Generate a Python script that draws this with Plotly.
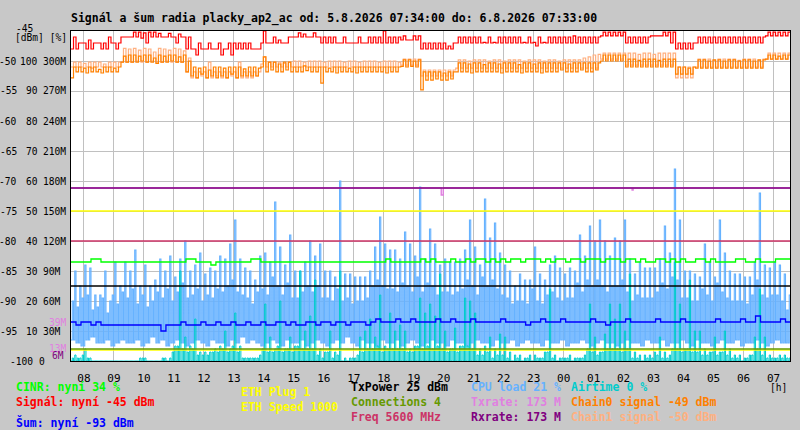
from datetime import datetime, timedelta

import plotly.graph_objects as go

START = datetime(2026, 8, 5, 7, 34)
END = datetime(2026, 8, 6, 7, 33)
BUCKET = timedelta(minutes=10)

# 10 minute buckets, 144 of them (07:34 -> 07:33 next day)
CPU_HI = [
    30, 25, 32, 31, 22, 22, 30, 20, 33, 25, 33, 30,
    37, 25, 32, 25, 27, 34, 30, 35, 28, 34, 40, 30,
    32, 36, 29, 31, 30, 35, 34, 39, 47, 34, 31, 30,
    27, 35, 36, 33, 53, 38, 32, 42, 30, 30, 33, 40,
    35, 39, 30, 30, 28, 60, 29, 29, 28, 28, 28, 30,
    38, 48, 39, 37, 37, 34, 43, 39, 35, 58, 34, 44,
    39, 32, 34, 33, 33, 34, 37, 47, 38, 32, 54, 41,
    46, 36, 32, 30, 25, 29, 27, 27, 38, 29, 27, 32,
    35, 31, 29, 31, 30, 42, 35, 45, 40, 47, 40, 35,
    41, 40, 47, 34, 29, 33, 31, 31, 31, 34, 45, 36,
    64, 47, 30, 30, 29, 28, 39, 33, 28, 47, 36, 30,
    29, 29, 28, 28, 33, 56, 32, 31, 33, 32, 29, 22,
]
CPU_MID = [
    20, 18, 21, 22, 17, 18, 21, 16, 22, 19, 23, 21,
    24, 19, 22, 18, 20, 23, 21, 24, 20, 23, 26, 21,
    22, 24, 20, 22, 21, 24, 23, 25, 27, 23, 22, 21,
    19, 23, 24, 22, 28, 25, 22, 26, 21, 21, 23, 25,
    23, 25, 21, 21, 20, 24, 20, 21, 19, 20, 20, 21,
    25, 27, 25, 24, 24, 23, 26, 25, 23, 28, 23, 26,
    25, 22, 23, 23, 22, 23, 24, 27, 25, 22, 28, 25,
    27, 24, 22, 21, 19, 20, 20, 19, 24, 20, 19, 22,
    23, 21, 20, 21, 21, 26, 23, 27, 25, 27, 25, 23,
    25, 25, 27, 23, 20, 22, 21, 21, 21, 23, 26, 24,
    28, 27, 21, 21, 20, 20, 24, 22, 20, 26, 23, 21,
    20, 20, 20, 19, 22, 27, 22, 21, 22, 22, 20, 17,
]
CPU_LO = [
    7, 6, 5, 7, 8, 6, 6, 7, 5, 6, 7, 6,
    6, 7, 5, 6, 8, 6, 7, 5, 6, 7, 6, 5,
    6, 7, 6, 5, 7, 6, 6, 5, 7, 6, 8, 6,
    7, 6, 5, 6, 7, 6, 5, 7, 6, 6, 7, 5,
    6, 7, 6, 5, 6, 7, 6, 8, 6, 5, 7, 6,
    6, 5, 7, 6, 6, 7, 5, 6, 7, 6, 5, 6,
    7, 6, 6, 5, 7, 6, 6, 5, 6, 7, 6, 6,
    5, 7, 6, 6, 7, 5, 6, 7, 6, 6, 5, 7,
    6, 6, 7, 5, 6, 6, 7, 6, 5, 6, 7, 6,
    6, 5, 6, 7, 6, 6, 5, 7, 6, 6, 7, 5,
    6, 6, 7, 6, 5, 7, 6, 6, 5, 6, 7, 6,
    6, 7, 5, 6, 6, 7, 6, 5, 6, 7, 6, 6,
]
AIR_HI = [
    2, 1, 4, 1, 0, 0, 0, 0, 0, 0, 0, 0,
    0, 1, 1, 0, 0, 0, 1, 1, 5, 30, 8, 5,
    14, 3, 3, 3, 4, 5, 10, 4, 16, 5, 1, 1,
    1, 2, 19, 8, 4, 20, 4, 8, 5, 30, 10, 15,
    27, 4, 3, 10, 3, 30, 1, 1, 1, 8, 10, 14,
    8, 22, 5, 16, 10, 12, 10, 4, 5, 21, 16, 19,
    15, 29, 10, 4, 11, 5, 21, 20, 16, 4, 5, 8,
    4, 9, 8, 3, 2, 2, 1, 2, 2, 1, 3, 24,
    2, 1, 1, 2, 1, 1, 2, 19, 8, 3, 9, 19,
    14, 19, 10, 29, 3, 2, 2, 2, 3, 8, 3, 2,
    33, 19, 4, 27, 10, 10, 4, 3, 8, 3, 10, 4,
    2, 2, 1, 2, 8, 24, 8, 2, 1, 2, 2, 1,
]
AIR_MID = [
    1, 1, 2, 1, 0, 0, 0, 0, 0, 0, 0, 0,
    0, 0, 1, 0, 0, 0, 1, 0, 3, 5, 4, 3,
    4, 2, 2, 2, 3, 3, 4, 3, 5, 3, 1, 1,
    1, 1, 4, 3, 3, 5, 3, 4, 3, 5, 4, 4,
    4, 2, 1, 3, 1, 2, 0, 0, 1, 2, 3, 4,
    4, 5, 3, 4, 4, 4, 4, 3, 3, 5, 4, 5,
    4, 5, 4, 3, 4, 3, 5, 5, 4, 2, 2, 3,
    1, 2, 2, 1, 0, 1, 0, 1, 0, 1, 1, 3,
    1, 0, 1, 1, 0, 1, 1, 4, 3, 2, 3, 4,
    4, 4, 3, 4, 1, 1, 0, 1, 1, 2, 1, 1,
    4, 4, 3, 4, 3, 3, 2, 2, 3, 2, 3, 2,
    1, 1, 0, 1, 2, 4, 2, 1, 1, 1, 1, 1,
]
CINR = [
    33, 33, 33, 33, 34, 34, 33, 33, 33, 33, 33, 33,
    33, 33, 33, 33, 33, 33, 33, 33, 33, 33, 33, 34,
    34, 33, 33, 33, 32, 33, 33, 33, 33, 33, 33, 33,
    34, 34, 33, 33, 33, 33, 33, 33, 33, 33, 33, 33,
    33, 33, 33, 33, 33, 33, 33, 33, 33, 33, 33, 33,
    33, 33, 33, 34, 33, 33, 33, 33, 33, 33, 34, 33,
    34, 33, 33, 33, 34, 33, 33, 34, 33, 34, 34, 33,
    34, 33, 34, 33, 34, 34, 33, 34, 34, 34, 33, 34,
    33, 34, 34, 33, 34, 34, 33, 34, 34, 34, 33, 34,
    34, 34, 33, 34, 34, 33, 34, 33, 33, 34, 34, 33,
    34, 33, 34, 33, 33, 34, 34, 33, 34, 33, 33, 33,
    33, 34, 34, 33, 33, 34, 33, 33, 33, 34, 34, 34,
]
NOISE = [
    -93.5, -94, -93.5, -93.5, -94, -93.5, -94, -94, -94, -94, -94, -94,
    -94, -94, -94, -94, -94, -94, -95, -94, -94, -94, -93.5, -94,
    -94, -94, -93.5, -94, -94, -93.5, -94, -94, -93.5, -94, -94, -93.5,
    -94, -94, -93.5, -94, -94, -93.5, -93.5, -94, -93.5, -94, -94, -93.5,
    -93.5, -94, -93.5, -93.5, -94, -93.5, -93.5, -94, -93.5, -93.5, -93.5, -94,
    -93.5, -93, -93.5, -93.5, -93.5, -93, -93.5, -93.5, -93, -93.5, -93.5, -93.5,
    -93.5, -93, -93.5, -93.5, -93, -93.5, -93.5, -93.5, -93, -93.5, -93.5, -93.5,
    -93.5, -93.5, -93, -93.5, -93.5, -93.5, -93.5, -94, -93.5, -93.5, -93, -93.5,
    -93.5, -93.5, -93, -93.5, -93.5, -93.5, -93.5, -93.5, -93, -93.5, -93.5, -94,
    -93.5, -93.5, -93.5, -93, -93.5, -93.5, -93.5, -93.5, -93.5, -93, -93.5, -93.5,
    -93.5, -93.5, -93, -93.5, -93.5, -93.5, -93.5, -93.5, -93.5, -93, -93.5, -93.5,
    -93.5, -93.5, -93, -93.5, -93.5, -92.5, -93.5, -93.5, -93.5, -93.5, -93, -93.5,
]
SIG_HI = [
    -46, -47, -47, -46.5, -47, -47, -47, -46, -47, -47, -46, -46,
    -45.2, -45.2, -45.3, -45.2, -45.2, -45.4, -46, -45.4, -46, -45.5, -46, -46,
    -48, -47, -48, -47, -48, -47, -48, -47, -47, -47, -47, -47,
    -48, -48, -45, -47, -46, -46.5, -47, -46, -46, -45.3, -45.5, -46,
    -45.3, -46, -46, -46, -46, -47, -46, -47, -47, -46, -47, -46,
    -46, -46, -45, -46, -46, -46, -45.8, -46.5, -45.8, -45.8, -47, -47,
    -47, -47, -47, -47.5, -47, -46, -46, -46, -46, -46, -46.9, -46,
    -46.9, -46, -46, -46, -46, -46, -46.9, -46, -46.9, -46, -46.9, -46,
    -46, -46, -46, -46, -45.8, -46, -46, -46, -46, -46, -45.2, -45.2,
    -45.2, -45.2, -45.2, -46, -46, -46, -46, -46, -45.8, -45.8, -45.2, -45.2,
    -45.2, -47, -47, -47, -47, -46, -46, -46, -46, -46, -46, -46,
    -46, -46, -46, -46, -46, -46, -46, -45.2, -45.2, -45.2, -45.2, -45.2,
]
SIG_LO = [
    -48, -48, -47, -48, -48, -47, -48, -48, -47, -48, -46, -46,
    -46, -46, -46.2, -47, -46, -46, -46, -46, -46, -47, -46, -48,
    -48, -49, -48, -48, -48, -48, -49, -48, -49, -48, -48, -48,
    -48, -48, -47, -47, -47, -47, -47, -47, -46, -46, -46, -46,
    -46, -46, -47, -47, -47, -47, -47, -47, -47, -47, -47, -47,
    -47, -47, -47, -47, -47, -47, -46.5, -46.5, -46.5, -46.5, -48, -48,
    -48, -48, -48, -48, -48, -47, -47, -47, -47, -47, -47, -47,
    -47, -47, -47, -47, -47, -47, -47, -47, -47, -47.5, -47, -47,
    -47, -47, -47, -47, -47, -47, -47, -47, -47, -47, -45.8, -45.8,
    -45.8, -45.8, -45.8, -47, -47, -47, -47, -47, -45.8, -45.8, -45.8, -45.8,
    -47, -48, -48, -48, -48, -47, -47, -47, -47, -47, -47, -47,
    -47, -47, -47, -47, -47, -47, -47, -45.8, -45.8, -45.8, -45.8, -45.8,
]
CH0_HI = [
    -51, -51, -51.2, -51, -51, -51.4, -51, -51, -51.2, -51, -49.2, -49,
    -49, -49.2, -49, -49, -49.5, -49, -49.2, -49, -49, -49.3, -49, -50,
    -51, -51.2, -51, -51.5, -51, -51, -51.2, -51, -51, -51, -51.3, -51,
    -51, -51.2, -49.3, -50.2, -50.2, -50.5, -50.2, -50.2, -51, -51, -50.8, -51,
    -51, -51, -51, -51.2, -51, -51, -51, -51.2, -51, -51, -51, -51,
    -51, -51, -51, -51, -51, -51, -49.8, -49.8, -50, -49.8, -51.8, -51.8,
    -51.8, -51.8, -52, -51.8, -51.8, -50.3, -50.3, -50.5, -50.3, -50.3, -50.6, -50.3,
    -50.3, -50.5, -50.3, -50.3, -50.3, -50.6, -50.3, -50.3, -50.5, -50.3, -50.3, -50.3,
    -50.3, -50.3, -50.3, -50.5, -50.3, -50.3, -50.3, -50.3, -50.3, -50.3, -49, -49,
    -49, -49, -49, -49.7, -49.7, -49.9, -49.7, -49.7, -49.7, -49.9, -49.7, -49.7,
    -49.7, -51, -51, -51.2, -51, -49.8, -49.8, -50, -49.8, -49.8, -50, -49.8,
    -49.8, -50, -49.8, -49.8, -50, -49.8, -49.8, -49, -49, -49.2, -49, -49,
]
CH0_LO = [
    -52.8, -51.8, -51.8, -52, -51.8, -51.8, -52, -51.8, -51.8, -51.8, -50.2, -50.2,
    -50.2, -50.2, -50, -50.2, -50.2, -50.4, -50.2, -50.2, -50, -50.2, -50.2, -51.8,
    -52.5, -52.8, -52.2, -52.8, -52.5, -52.8, -52.5, -52.8, -52.2, -52.8, -52.5, -52.5,
    -52.5, -52.5, -51, -51.8, -51.5, -51.8, -51.8, -51.5, -51.8, -51.8, -51.8, -51.6,
    -51.8, -51.8, -53.7, -51.8, -51.8, -52, -51.8, -51.8, -51.8, -52, -51.8, -51.8,
    -51.8, -51.8, -51.8, -52, -51.8, -51.8, -50.9, -51, -50.9, -51, -54.8, -53.2,
    -53.2, -53, -53.2, -53.2, -53, -51.8, -51.8, -51.8, -52, -51.8, -51.8, -51.8,
    -51.8, -51.8, -52, -51.8, -51.8, -51.8, -52, -51.8, -51.8, -51.8, -52, -51.8,
    -51.8, -51.8, -51.5, -51.8, -51.8, -51.8, -51.5, -51.8, -51.8, -51.5, -50, -50,
    -50, -50, -50, -51, -51, -51, -51, -51, -51, -51, -51, -51,
    -51, -52.2, -52.2, -52.2, -52.2, -51.2, -51.2, -51.2, -51.2, -51.2, -51.2, -51.2,
    -51.2, -51.2, -51.2, -51.2, -51.2, -51.2, -51.2, -49.7, -49.7, -49.7, -49.7, -49.7,
]
CH1_HI = [
    -50.2, -50.2, -50.4, -50.2, -50.2, -50.2, -50.5, -50.2, -50.2, -50.2, -47.9, -48,
    -47.9, -48.2, -47.9, -48, -48.5, -47.9, -48, -48.2, -47.9, -48, -48.3, -49.5,
    -51.8, -51.8, -51.8, -50.2, -51.8, -51.8, -51.8, -51.8, -51.8, -50.2, -51.8, -51.8,
    -51.8, -51.8, -49.3, -50.2, -50.2, -50.2, -50.4, -50.2, -50, -50, -50.2, -50,
    -50, -50, -50.2, -50, -50, -50, -50.2, -50, -50, -50.2, -50, -50,
    -50, -50.2, -50, -50, -50, -50.2, -49.7, -49.7, -49.7, -49.7, -51.5, -51.5,
    -51.5, -51.5, -51.5, -51.5, -51.5, -49.8, -49.8, -50, -49.8, -49.8, -49.8, -50,
    -49.8, -49.8, -50, -49.8, -49.8, -49.8, -50, -49.8, -49.8, -49.8, -50, -49.8,
    -49.8, -50, -49.8, -49.8, -49.8, -49.8, -49.5, -49.3, -49, -48.9, -48.7, -48.7,
    -48.7, -48.7, -48.7, -48.7, -48.7, -48.9, -48.7, -48.7, -48.9, -48.7, -48.7, -48.7,
    -48.7, -51, -51, -51, -51, -49.7, -49.7, -49.7, -49.9, -49.7, -49.7, -49.7,
    -49.7, -49.9, -49.7, -49.7, -49.7, -49.9, -49.7, -48.7, -48.7, -48.7, -48.7, -48.7,
]
CH1_LO = [
    -51, -51, -51, -51, -51.2, -51, -51, -51, -51, -51, -50.2, -50.2,
    -50.2, -50, -50.2, -50.2, -50, -50.2, -50.2, -50, -50.2, -50.2, -50.2, -51.8,
    -52.8, -52.8, -52.5, -52.8, -52.8, -52.5, -52.8, -52.8, -52.5, -52.8, -52.8, -52.8,
    -52.8, -52.5, -50.5, -51, -51, -51, -51, -51, -51, -51, -51, -51,
    -51, -51, -51, -51, -51, -51, -51, -51, -51, -51, -51, -51,
    -51, -51, -51, -51, -51, -51, -50.7, -50.7, -50.7, -50.7, -52.5, -52.5,
    -52.5, -52.5, -52.5, -52.5, -52.5, -51.2, -51.2, -51.2, -51.2, -51.2, -51.2, -51.2,
    -51.2, -51.2, -51.2, -51.2, -51.2, -51.2, -51.2, -51.2, -51.2, -51.2, -51.2, -51.2,
    -51.2, -51.2, -51.2, -51.2, -51.2, -51.2, -51.2, -51.2, -51.2, -51.2, -49.7, -49.7,
    -49.7, -49.7, -49.7, -50.7, -50.7, -50.7, -50.7, -50.7, -50.7, -50.7, -50.7, -50.7,
    -50.7, -52.8, -52.8, -52.8, -52.8, -51, -51, -51, -51, -51, -51, -51,
    -51, -51, -51, -51, -51, -51, -51, -49.7, -49.7, -49.7, -49.7, -49.7,
]

# rates in M, as change points
TX_TIMES = ["2026-08-05 07:34", "2026-08-05 19:55", "2026-08-05 19:59",
            "2026-08-06 02:17", "2026-08-06 02:19", "2026-08-06 07:33"]
TX_VALUES = [173, 166, 173, 171, 173, 173]
RX_TIMES = ["2026-08-05 07:34", "2026-08-06 07:33"]
RX_VALUES = [173, 173]
RATE_MARKS = [39, 13, 6]

# constant levels, on the % scale
LEVEL_NAMES = ["ETH Speed", "Freq", "TxPower", "ETH Plug", "Connections"]
LEVEL_VALUES = [50, 40, 25, 3.6, 4]

DBM_TICKS = [-100, -95, -90, -85, -80, -75, -70, -65, -60, -55, -50, -45]
PCT_TICKS = [0, 10, 20, 30, 40, 50, 60, 70, 80, 90, 100]
RATE_TICKS = ["0M", "30M", "60M", "90M", "120M", "150M", "180M", "210M", "240M", "270M", "300M"]

TITLE = "Signál a šum radia placky_ap2_ac od: 5.8.2026 07:34:00 do: 6.8.2026 07:33:00"
LEGEND = [
    ("CINR: nyní 34 %", "#00ff00", 15, 387),
    ("Signál: nyní -45 dBm", "#ff0000", 15, 402),
    ("Šum: nyní -93 dBm", "#0000ff", 15, 422),
    ("ETH Plug 1", "#ffff00", 240, 392),
    ("ETH Speed 1000", "#ffff00", 240, 407),
    ("TxPower 25 dBm", "#000000", 350, 387),
    ("Connections 4", "#669900", 350, 402),
    ("Freq 5600 MHz", "#cc3366", 350, 417),
    ("CPU load 21 %", "#66b2ff", 470, 387),
    ("Txrate: 173 M", "#e080e0", 470, 402),
    ("Rxrate: 173 M", "#800080", 470, 417),
    ("Airtime 0 %", "#00cccc", 570, 387),
    ("Chain0 signal -49 dBm", "#ff8000", 570, 402),
    ("Chain1 signal -50 dBm", "#ffb080", 570, 417),
]

FONT = "DejaVu Sans Mono"
LEVEL_COLORS = {"ETH Speed": "#ffff00", "Freq": "#cc3366", "TxPower": "#000000",
                "ETH Plug": "#ffff00", "Connections": "#669900"}

PLOT_L, PLOT_R, PLOT_T, PLOT_B = 71, 790, 31, 361


def px_x(x):
    return (x - PLOT_L) / (PLOT_R - PLOT_L)


def px_y(y):
    return (PLOT_B - y) / (PLOT_B - PLOT_T)


def pulses(*levels):
    # each bucket is split in equal parts, one value per part
    xs, ys = [], []
    parts = len(levels)
    for i, values in enumerate(zip(*levels)):
        t = START + i * BUCKET
        for k, v in enumerate(values):
            xs.append(t + BUCKET * k / parts)
            ys.append(v)
    xs.append(START + len(levels[0]) * BUCKET)
    ys.append(levels[-1][-1])
    return xs, ys


def step_line(fig, xs, ys, color, width, yaxis):
    fig.add_trace(go.Scatter(x=xs, y=ys, mode="lines", line={"color": color, "width": width, "shape": "hv"},
                             yaxis=yaxis, hoverinfo="skip", showlegend=False))


fig = go.Figure()
floor = [0 for _ in AIR_HI]

# % scale (main axis)
step_line(fig, *pulses(CPU_LO, CPU_MID, CPU_LO, CPU_HI), "#66b2ff", 1.1, "y")
step_line(fig, *pulses(floor, AIR_MID, floor, AIR_HI), "#00cccc", 1.0, "y")
for name, level in zip(LEVEL_NAMES, LEVEL_VALUES):
    step_line(fig, [START, END], [level, level], LEVEL_COLORS[name], 1.3, "y")
step_line(fig, *pulses(CINR), "#00ff00", 1.3, "y")

# dBm scale
step_line(fig, *pulses(NOISE), "#0000ff", 1.3, "y2")
step_line(fig, *pulses(CH1_LO, CH1_HI), "#ffb080", 1.2, "y2")
step_line(fig, *pulses(CH0_LO, CH0_HI), "#ff8000", 1.2, "y2")
step_line(fig, *pulses(SIG_LO, SIG_HI), "#ff0000", 1.2, "y2")

# rate scale
step_line(fig, TX_TIMES, TX_VALUES, "#e080e0", 1.4, "y3")
step_line(fig, RX_TIMES, RX_VALUES, "#800080", 1.4, "y3")

axis_font = {"family": FONT, "size": 9.6, "color": "#000000"}
for k in range(1, len(PCT_TICKS)):
    yp = px_y(PLOT_B - PCT_TICKS[k] * 3)
    fig.add_annotation(x=px_x(19), y=yp, text=str(DBM_TICKS[k]), xanchor="right")
    fig.add_annotation(x=px_x(40), y=yp, text=str(PCT_TICKS[k]), xanchor="right")
    fig.add_annotation(x=px_x(41), y=yp, text=RATE_TICKS[k], xanchor="left")
fig.add_annotation(x=px_x(47), y=px_y(PLOT_B), text=f"{DBM_TICKS[0]} {PCT_TICKS[0]}", xanchor="right")
fig.add_annotation(x=px_x(35), y=px_y(29), text=str(DBM_TICKS[-1]), xanchor="right")
fig.add_annotation(x=px_x(69), y=px_y(37), text="[dBm] [%]", xanchor="right")
fig.add_annotation(x=px_x(789), y=px_y(387), text="[h]", xanchor="right")
fig.update_annotations(xref="paper", yref="paper", showarrow=False, yanchor="middle", font=axis_font)

mark_colors = ["#e080e0", "#e080e0", "#800080"]
for value, color in zip(RATE_MARKS, mark_colors):
    anchor = "left" if value < 10 else "right"
    fig.add_annotation(x=px_x(50 if value < 10 else 69), y=value, xref="paper", yref="y3",
                       text=f"{value}M", showarrow=False, xanchor=anchor, yanchor="middle",
                       font={"family": FONT, "size": 9.6, "color": color})

fig.add_annotation(x=px_x(69), y=px_y(18), xref="paper", yref="paper", text=f"<b>{TITLE}</b>",
                   showarrow=False, xanchor="left", yanchor="middle",
                   font={"family": FONT, "size": 11.5, "color": "#000000"})
for text, color, x, y in LEGEND:
    fig.add_annotation(x=px_x(x - 1), y=px_y(y), xref="paper", yref="paper", text=f"<b>{text}</b>",
                       showarrow=False, xanchor="left", yanchor="middle",
                       font={"family": FONT, "size": 11.5, "color": color})

fig.update_layout(
    width=800,
    height=430,
    margin={"l": PLOT_L, "r": 800 - PLOT_R, "t": PLOT_T, "b": 430 - PLOT_B},
    paper_bgcolor="#c8c8c8",
    plot_bgcolor="#ffffff",
    showlegend=False,
    xaxis={
        "range": [START, END],
        "type": "date",
        "tick0": "2026-08-05 08:00",
        "dtick": 3600000,
        "tickformat": "%H",
        "showgrid": True,
        "gridcolor": "#c0c0c0",
        "gridwidth": 1,
        "showline": True,
        "mirror": True,
        "linecolor": "#000000",
        "linewidth": 1,
        "ticks": "",
        "ticklabelstandoff": 7,
        "tickfont": {"family": FONT, "size": 11, "color": "#000000"},
        "zeroline": False,
    },
    yaxis={
        "range": [0, 110],
        "dtick": 10,
        "showgrid": True,
        "gridcolor": "#c0c0c0",
        "gridwidth": 1,
        "showline": True,
        "mirror": True,
        "linecolor": "#000000",
        "linewidth": 1,
        "showticklabels": False,
        "ticks": "",
        "zeroline": False,
    },
    yaxis2={"range": [-100, -45], "overlaying": "y", "visible": False},
    yaxis3={"range": [0, 330], "overlaying": "y", "visible": False},
)

# the page body has a default margin; drop it so the figure sits at the window corner
fig.write_html("out.html", config={"displayModeBar": False},
               post_script="document.body.style.margin = '0';")
